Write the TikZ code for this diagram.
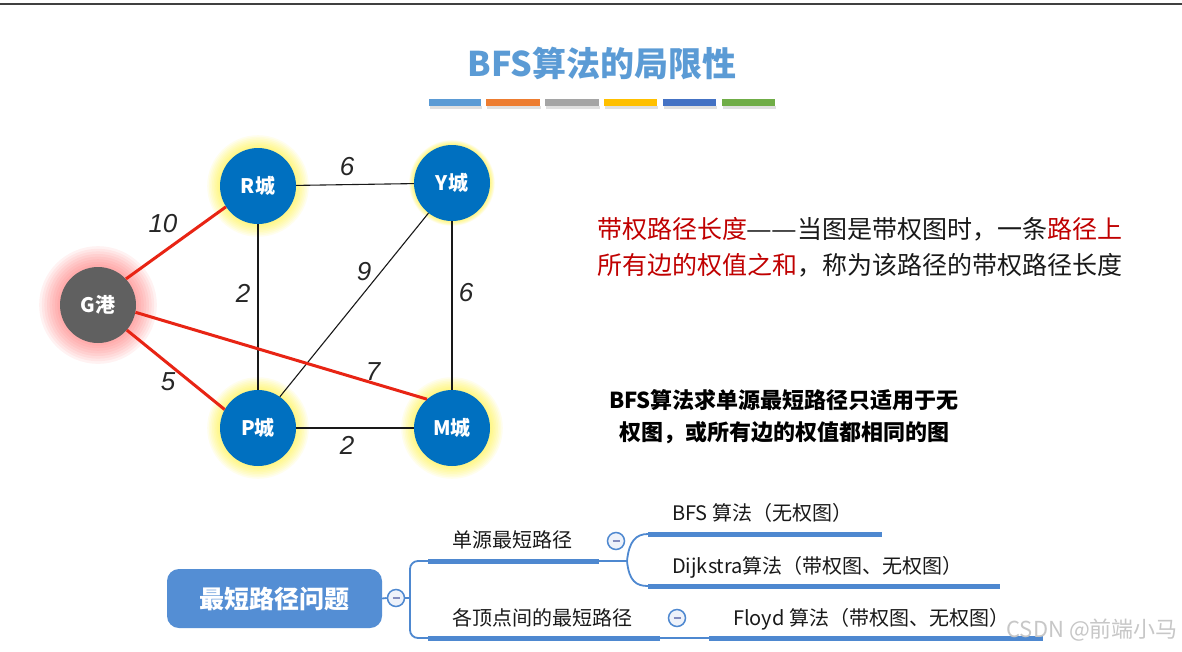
\documentclass[tikz,border=0pt]{standalone}
\usepackage{fontspec}
\setmainfont{Noto Sans CJK SC}
\newfontfamily\labfont{Liberation Sans}
\definecolor{titleblue}{RGB}{91,155,213}
\definecolor{cityblue}{RGB}{0,112,192}
\definecolor{portgray}{RGB}{96,96,96}
\definecolor{redline}{RGB}{232,36,20}
\definecolor{defred}{RGB}{192,0,0}
\definecolor{mmblue}{RGB}{78,136,208}
\definecolor{rootblue}{RGB}{84,142,212}
\definecolor{togfill}{RGB}{238,242,250}
\definecolor{togminus}{RGB}{130,140,190}
\definecolor{barA}{RGB}{91,155,213}
\definecolor{barB}{RGB}{237,125,49}
\definecolor{barC}{RGB}{165,165,165}
\definecolor{barD}{RGB}{255,192,0}
\definecolor{barE}{RGB}{68,114,196}
\definecolor{barF}{RGB}{112,173,71}
\newcommand{\glowat}[4]{% center, colour, radius, step
  \foreach \k in {1,...,8}{\fill[#2, opacity=0.07] (#1) circle ({#3+#4*\k});}}
\newcommand{\cjkdash}{\makebox[25pt][c]{\scalebox{1.15}[1]{—}}}
\begin{document}
\begin{tikzpicture}[x=1pt,y=-1pt,
  city/.style={circle, fill=cityblue, minimum size=76pt, inner sep=0pt, text=white,
    font=\fontsize{20}{24}\selectfont\bfseries},
  port/.style={city, fill=portgray},
  wlab/.style={font=\labfont\itshape\fontsize{26}{30}\selectfont, text=black!85, inner sep=0pt},
  plainedge/.style={draw=black!90, line width=1.1pt},
  hotedge/.style={draw=redline, line width=3pt},
  mmbar/.style={draw=mmblue, line width=5pt},
  mmthin/.style={draw=mmblue, line width=1.8pt},
  tog/.style={circle, draw=mmblue, line width=1.5pt, fill=togfill, minimum size=17pt, inner sep=0pt,
    path picture={\draw[togminus, line width=1.4pt]
      ([xshift=-3.5pt]path picture bounding box.center) -- ([xshift=3.5pt]path picture bounding box.center);}},
  mmtext/.style={font=\fontsize{20}{24}\selectfont, anchor=west, inner sep=0pt, text=black!90},
  deftext/.style={font=\fontsize{25}{30}\selectfont, anchor=base west, inner sep=0pt, text=black!90},
  notetext/.style={font=\fontsize{22}{26}\selectfont\bfseries, anchor=base, inner sep=0pt, text=black}
]
\useasboundingbox (0,0) rectangle (1182,651);
\fill[white] (0,0) rectangle (1182,651);
\draw[line width=2pt, black!75] (0,4) -- (1182,4);

% title
\node[font=\fontsize{34}{40}\selectfont\bfseries, text=titleblue] (title) at (602,63) {BFS算法的局限性};
\foreach \a/\b/\c in {429/481/barA,486/540/barB,545/599/barC,604/657/barD,663/716/barE,722/775/barF}{
  \fill[black!12] (\a+1,106) rectangle (\b+1,109);
  \fill[\c] (\a,99) rectangle (\b,106);
}

% graph
\coordinate (cR) at (258,186);
\coordinate (cY) at (452,183);
\coordinate (cP) at (258,428);
\coordinate (cM) at (452,428);
\coordinate (cG) at (98,305);
\glowat{cR}{yellow}{38}{1.6}
\glowat{cY}{yellow}{38}{0.6}
\glowat{cP}{yellow}{38}{1.6}
\glowat{cM}{yellow}{38}{1.6}
\glowat{cG}{red!70}{38}{2.6}

\node[city] (R) at (cR) {R城};
\node[city] (Y) at (cY) {Y城};
\node[city] (P) at (cP) {P城};
\node[city] (M) at (cM) {M城};
\node[port] (G) at (cG) {G港};

\draw[plainedge] (R) -- (Y);
\draw[plainedge] (R) -- (P);
\draw[plainedge] (Y.-128) -- (P.55);
\draw[plainedge] (Y) -- (M);
\draw[plainedge] (P) -- (M);
\draw[hotedge] (G.43) -- (R.213);
\draw[hotedge] (G.-41) -- (P.151);
\draw[hotedge] (G.-11) -- (M.131);

\node[wlab] (w1) at (347,167) {6};
\node[wlab] (w2) at (163,224) {10};
\node[wlab] (w3) at (243,293) {2};
\node[wlab] (w4) at (364,272) {9};
\node[wlab] (w5) at (466,293) {6};
\node[wlab] (w6) at (168,382) {5};
\node[wlab] (w7) at (373,372) {7};
\node[wlab] (w8) at (347,445) {2};

% definition text
\node[deftext] (def1) at (597,238.5) {\textcolor{defred}{带权路径长度}\cjkdash\cjkdash 当图是带权图时，一条\textcolor{defred}{路径上}};
\node[deftext] (def2) at (597,274.5) {\textcolor{defred}{所有边的权值之和}，称为该路径的带权路径长度};

% note
\node[notetext] (note1) at (784,408) {BFS算法求单源最短路径只适用于无};
\node[notetext] (note2) at (784,440) {权图，或所有边的权值都相同的图};

% mind map
\node[fill=rootblue, rounded corners=12pt, minimum width=215pt, minimum height=59pt, inner sep=0pt,
  text=white, font=\fontsize{25}{30}\selectfont\bfseries] (root) at (274.5,598.5) {最短路径问题};
\node[tog] (t0) at (396,598) {};
\node[tog] (t1) at (616,541) {};
\node[tog] (t2) at (677,618) {};

\coordinate (trunk) at (410,598);
\coordinate (a1) at (428,561);
\coordinate (a2) at (599,561);
\coordinate (b1) at (428,638);
\coordinate (b2) at (660,638);
\coordinate (fork) at (627,561);
\coordinate (c1) at (648,534);
\coordinate (c2) at (882,534);
\coordinate (d1) at (648,586);
\coordinate (d2) at (1000,586);
\coordinate (e1) at (709,638);
\coordinate (e2) at (1043,638);

\draw[mmthin] (root.east) -- (t0.west);
\draw[mmthin] (t0.east) -- (trunk);
\draw[mmthin, rounded corners=8pt] (a1) -| (trunk) |- (b1);
\draw[mmbar] (a1) -- (a2);
\draw[mmbar] (b1) -- (b2);
\draw[mmthin] (a2) -- (fork);
\draw[mmthin] (fork) .. controls (629,541) and (636,534) .. (c1);
\draw[mmthin] (fork) .. controls (629,581) and (636,586) .. (d1);
\draw[mmbar] (c1) -- (c2);
\draw[mmbar] (d1) -- (d2);
\draw[mmthin] (b2) -- (e1);
\draw[mmbar] (e1) -- (e2);

\node[mmtext] (s1) at (452,540) {单源最短路径};
\node[mmtext] (s2) at (452,618) {各顶点间的最短路径};
\node[mmtext] (bfs) at (672,513) {BFS 算法（无权图）};
\node[mmtext] (dij) at (672,567) {Dijkstra算法（带权图、无权图）};
\node[mmtext] (floyd) at (733,619) {Floyd 算法（带权图、无权图）};

\node[font=\fontsize{22}{26}\selectfont, text=black!22, anchor=east, inner sep=0pt] (wm) at (1178,630) {CSDN @前端小马};
\end{tikzpicture}
\end{document}
